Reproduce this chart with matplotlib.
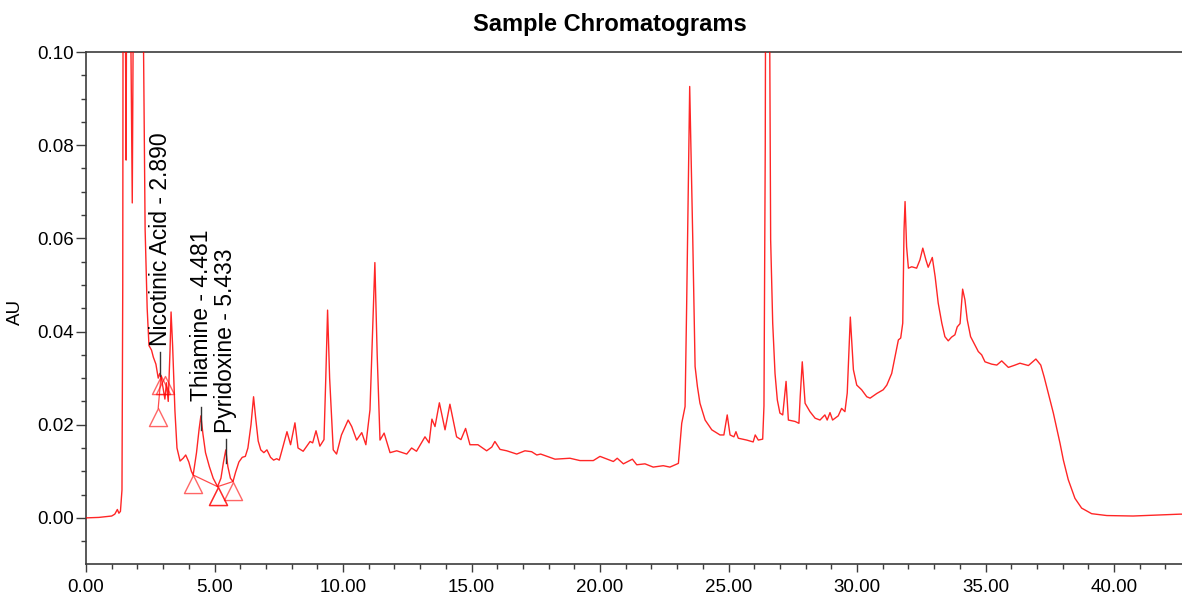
import matplotlib
matplotlib.use("Agg")
import matplotlib.pyplot as plt
from matplotlib.path import Path
from matplotlib.ticker import MultipleLocator, FormatStrFormatter

plt.rcParams["font.family"] = ["Liberation Sans", "DejaVu Sans"]

# Detector trace: retention time (min) and absorbance (AU)
time_min = [
    0.00, 0.50, 1.00, 1.12, 1.22, 1.28, 1.34, 1.40, 1.43, 1.47, 1.53, 1.56, 1.60, 1.68,
    1.75, 1.80, 1.86, 2.00, 2.15, 2.24, 2.30, 2.38, 2.45, 2.55, 2.62, 2.72, 2.81, 2.87,
    2.92, 2.98, 3.07, 3.13, 3.20, 3.27, 3.31, 3.37, 3.46, 3.54, 3.66, 3.78, 3.88, 4.00,
    4.10, 4.17, 4.30, 4.40, 4.47, 4.55, 4.65, 4.80, 4.95, 5.12, 5.25, 5.35, 5.44, 5.52,
    5.62, 5.72, 5.82, 5.95, 6.08, 6.20, 6.30, 6.42, 6.52, 6.60, 6.70, 6.80, 6.92, 7.04,
    7.18, 7.30, 7.42, 7.52, 7.65, 7.82, 7.96, 8.13, 8.25, 8.45, 8.72, 8.82, 8.95, 9.10,
    9.26, 9.33, 9.40, 9.48, 9.62, 9.75, 9.94, 10.20, 10.34, 10.53, 10.73, 10.89, 11.05,
    11.12, 11.24, 11.33, 11.44, 11.60, 11.83, 12.09, 12.48, 12.67, 12.86, 13.19, 13.35,
    13.46, 13.58, 13.75, 13.97, 14.16, 14.42, 14.59, 14.77, 14.94, 15.25, 15.59, 15.79,
    15.91, 16.11, 16.37, 16.76, 17.08, 17.34, 17.54, 17.69, 18.25, 18.83, 19.22, 19.74,
    20.00, 20.52, 20.67, 20.91, 21.26, 21.43, 21.75, 22.07, 22.46, 22.72, 23.05, 23.18,
    23.31, 23.37, 23.49, 23.61, 23.70, 23.79, 23.89, 24.09, 24.35, 24.67, 24.82, 24.95,
    25.06, 25.21, 25.29, 25.38, 25.71, 25.96, 26.04, 26.16, 26.33, 26.38, 26.43, 26.50,
    26.59, 26.64, 26.72, 26.81, 26.90, 27.00, 27.11, 27.24, 27.33, 27.59, 27.74, 27.79,
    27.87, 27.98, 28.17, 28.37, 28.56, 28.75, 28.84, 28.95, 29.05, 29.27, 29.40, 29.53,
    29.62, 29.74, 29.86, 29.99, 30.18, 30.38, 30.51, 30.77, 31.02, 31.16, 31.35, 31.48,
    31.61, 31.70, 31.78, 31.83, 31.87, 31.93, 32.00, 32.13, 32.32, 32.45, 32.56, 32.68,
    32.77, 32.93, 33.04, 33.16, 33.30, 33.42, 33.55, 33.68, 33.81, 33.90, 34.01, 34.11,
    34.20, 34.29, 34.42, 34.59, 34.72, 34.85, 34.98, 35.24, 35.44, 35.63, 35.89, 36.15,
    36.34, 36.67, 36.96, 37.15, 37.28, 37.44, 37.64, 37.90, 38.03, 38.22, 38.48, 38.74,
    39.13, 39.72, 40.74, 42.57, 42.70,
]
absorbance = [
    0.0000, 0.0001, 0.0004, 0.0008, 0.0018, 0.0010, 0.0014, 0.0060, 0.0500, 0.2500, 0.1100, 0.0768, 0.1500, 0.2000,
    0.1000, 0.0676, 0.1300, 0.3000, 0.2000, 0.1000, 0.0620, 0.0450, 0.0370, 0.0360, 0.0345, 0.0330, 0.0300, 0.0310,
    0.0305, 0.0285, 0.0255, 0.0290, 0.0250, 0.0360, 0.0442, 0.0370, 0.0230, 0.0150, 0.0122, 0.0128, 0.0135, 0.0120,
    0.0100, 0.0092, 0.0140, 0.0190, 0.0219, 0.0180, 0.0140, 0.0110, 0.0085, 0.0067, 0.0085, 0.0120, 0.0146, 0.0110,
    0.0085, 0.0078, 0.0098, 0.0120, 0.0130, 0.0132, 0.0150, 0.0200, 0.0260, 0.0215, 0.0165, 0.0146, 0.0140, 0.0146,
    0.0130, 0.0124, 0.0127, 0.0124, 0.0150, 0.0185, 0.0157, 0.0204, 0.0150, 0.0143, 0.0164, 0.0161, 0.0187, 0.0154,
    0.0168, 0.0300, 0.0446, 0.0300, 0.0146, 0.0137, 0.0178, 0.0210, 0.0196, 0.0167, 0.0183, 0.0157, 0.0232,
    0.0350, 0.0548, 0.0350, 0.0167, 0.0182, 0.0140, 0.0144, 0.0137, 0.0150, 0.0143, 0.0174, 0.0161,
    0.0212, 0.0196, 0.0247, 0.0189, 0.0244, 0.0174, 0.0168, 0.0192, 0.0157, 0.0157, 0.0144, 0.0152,
    0.0164, 0.0147, 0.0144, 0.0137, 0.0144, 0.0142, 0.0135, 0.0137, 0.0126, 0.0128, 0.0123, 0.0123,
    0.0132, 0.0121, 0.0128, 0.0116, 0.0126, 0.0114, 0.0116, 0.0109, 0.0112, 0.0109, 0.0117, 0.0203,
    0.0239, 0.0450, 0.0926, 0.0597, 0.0325, 0.0282, 0.0246, 0.0210, 0.0189, 0.0178, 0.0178, 0.0221,
    0.0178, 0.0174, 0.0185, 0.0171, 0.0167, 0.0163, 0.0178, 0.0167, 0.0169, 0.0240, 0.0800, 0.2500,
    0.1200, 0.0597, 0.0418, 0.0310, 0.0253, 0.0225, 0.0221, 0.0293, 0.0210, 0.0207, 0.0203, 0.0260,
    0.0335, 0.0246, 0.0228, 0.0214, 0.0210, 0.0221, 0.0210, 0.0226, 0.0210, 0.0219, 0.0235, 0.0228,
    0.0268, 0.0431, 0.0318, 0.0285, 0.0275, 0.0260, 0.0257, 0.0267, 0.0275, 0.0285, 0.0310, 0.0346,
    0.0382, 0.0386, 0.0418, 0.0618, 0.0679, 0.0582, 0.0536, 0.0539, 0.0536, 0.0554, 0.0579, 0.0554,
    0.0538, 0.0559, 0.0518, 0.0461, 0.0418, 0.0389, 0.0380, 0.0388, 0.0393, 0.0410, 0.0417, 0.0491,
    0.0468, 0.0425, 0.0389, 0.0371, 0.0357, 0.0350, 0.0335, 0.0330, 0.0328, 0.0337, 0.0323, 0.0328,
    0.0332, 0.0327, 0.0341, 0.0328, 0.0303, 0.0268, 0.0225, 0.0160, 0.0124, 0.0082, 0.0042, 0.0021,
    0.0009, 0.0005, 0.0004, 0.0008, 0.0008,
]

# Identified peaks
peak_names = ["Nicotinic Acid", "Thiamine", "Pyridoxine"]
peak_rt = [2.890, 4.481, 5.433]
label_top = [0.0357, 0.0239, 0.0170]
label_bottom = [0.0304, 0.0189, 0.0118]

# Integration baselines (start/end of each peak)
nicotinic_base_t = [2.81, 2.92]
nicotinic_base_y = [0.0236, 0.0305]
nicotinic_extra_t = [3.07]
nicotinic_extra_y = [0.0305]
thiamine_base_t = [4.17, 5.12]
thiamine_base_y = [0.0092, 0.0067]
pyridoxine_base_t = [5.12, 5.72]
pyridoxine_base_y = [0.0067, 0.0078]

W, H = 1182, 600
fig = plt.figure(figsize=(W / 100, H / 100), dpi=100)
ax = fig.add_axes([86 / W, 36 / H, 1.0 - 86 / W, (564 - 52) / H])

trace_color = "#ff0000"
ax.plot(time_min, absorbance, color=trace_color, lw=1.0, alpha=0.85, zorder=3)

# Hanging-triangle marker: apex at the data point
tri = Path([(0, 0), (-0.5, -1), (0.5, -1), (0, 0)],
           [Path.MOVETO, Path.LINETO, Path.LINETO, Path.CLOSEPOLY])
mk = dict(marker=tri, ms=26, mfc="none", mec=trace_color, mew=1.0, alpha=0.6, zorder=4)

for bt, by in [(nicotinic_base_t, nicotinic_base_y),
               (thiamine_base_t, thiamine_base_y),
               (pyridoxine_base_t, pyridoxine_base_y)]:
    ax.plot(bt, by, color=trace_color, lw=0.9, alpha=0.7, zorder=4)
    ax.plot(bt, by, ls="none", **mk)
ax.plot(nicotinic_extra_t, nicotinic_extra_y, ls="none", **mk)

for name, rt, yt, yb in zip(peak_names, peak_rt, label_top, label_bottom):
    ax.plot([rt, rt], [yb, yt], color="#333333", lw=1.0, zorder=5)
    ax.annotate(f"{name} - {rt:.3f}", xy=(rt, yt), xytext=(0, 4),
                textcoords="offset points", rotation=90, ha="center", va="bottom",
                fontsize=16.5, color="black", zorder=6)

ax.set_xlim(0, (W - 86) / 25.7)
ax.set_ylim(-0.0099, 0.10)
ax.xaxis.set_major_locator(MultipleLocator(5))
ax.xaxis.set_minor_locator(MultipleLocator(1))
ax.yaxis.set_major_locator(MultipleLocator(0.02))
ax.yaxis.set_minor_locator(MultipleLocator(0.005))
ax.xaxis.set_major_formatter(FormatStrFormatter("%.2f"))
ax.yaxis.set_major_formatter(FormatStrFormatter("%.2f"))

spine_color = "#3c3c3c"
for side in ("left", "bottom", "top"):
    ax.spines[side].set_color(spine_color)
    ax.spines[side].set_linewidth(1.2)
ax.spines["right"].set_visible(False)

ax.tick_params(axis="x", which="major", length=6, width=1.0, color=spine_color,
               labelsize=13.5, pad=5)
ax.tick_params(axis="x", which="minor", length=3.5, width=1.0, color=spine_color)
ax.tick_params(axis="y", which="major", length=7.5, width=1.0, color=spine_color,
               labelsize=13.5, pad=1)
ax.tick_params(axis="y", which="minor", length=3.5, width=1.0, color=spine_color)

fig.text(15 / W, 1 - 312 / H, "AU", rotation=90, ha="center", va="center", fontsize=13.5)
fig.text(610 / W, 1 - 25 / H, "Sample Chromatograms", ha="center", va="center",
         fontsize=17, fontweight="bold")

fig.savefig("out.png", dpi=100)
